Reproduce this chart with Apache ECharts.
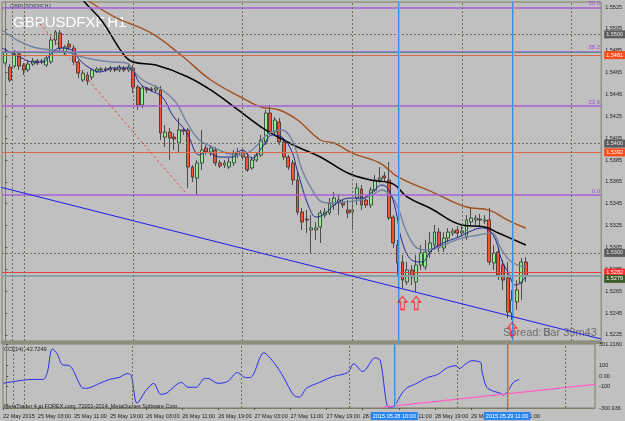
<!DOCTYPE html>
<html>
<head>
<meta charset="utf-8">
<script src="https://cdn.jsdelivr.net/npm/echarts@6/dist/echarts.min.js"></script>
<style>
  html, body { margin: 0; padding: 0; background: #c0c0c0; }
  #chart { width: 625px; height: 421px; }
</style>
</head>
<body>
<div id="chart"></div>
<script>
// bar index k: 0 = first bar on screen, 7 = 25 May 03:00, one bar per hour
const tickLabels = [
  [-0.72, '22 May 2015'], [7, '25 May 03:00'], [15, '25 May 11:00'], [23, '25 May 19:00'],
  [31, '26 May 03:00'], [39, '26 May 11:00'], [47, '26 May 19:00'], [55, '27 May 03:00'],
  [63, '27 May 11:00'], [71, '27 May 19:00'], [79, '28 May 03:00'], [87, '28 May 11:00'],
  [95, '28 May 19:00'], [103, '29 May 03:00'], [111, '29 May 11:00']
];
const priceTicks = [1.5525, 1.5505, 1.5485, 1.5465, 1.5445, 1.5425, 1.5405, 1.5385,
  1.5365, 1.5345, 1.5325, 1.5305, 1.5285, 1.5265, 1.5245, 1.5225];
const cciTicks = [301.216, 100, 0, -100, -300.936];
const cciTickText = ['301.2160', '100', '0.00', '-100', '-300.936'];

// open, close, low, high
const candles = [
  [1.54738, 1.54838, 1.54710, 1.54875], [1.54701, 1.54582, 1.54564, 1.54728],
  [1.54710, 1.54820, 1.54692, 1.54857], [1.54820, 1.54710, 1.54674, 1.54838],
  [1.54719, 1.54674, 1.54628, 1.54738], [1.54674, 1.54728, 1.54655, 1.54765],
  [1.54728, 1.54756, 1.54710, 1.54783], [1.54756, 1.54738, 1.54719, 1.54774],
  [1.54747, 1.54756, 1.54728, 1.54774], [1.54719, 1.54783, 1.54701, 1.54802],
  [1.54747, 1.54948, 1.54728, 1.54975], [1.54948, 1.55021, 1.54902, 1.55040],
  [1.55012, 1.54875, 1.54838, 1.55040], [1.54829, 1.54884, 1.54802, 1.54902],
  [1.54911, 1.54884, 1.54857, 1.54948], [1.54875, 1.54747, 1.54719, 1.54902],
  [1.54747, 1.54646, 1.54600, 1.54765], [1.54582, 1.54646, 1.54564, 1.54674],
  [1.54628, 1.54573, 1.54536, 1.54655], [1.54609, 1.54674, 1.54582, 1.54692],
  [1.54664, 1.54683, 1.54646, 1.54701], [1.54674, 1.54683, 1.54655, 1.54701],
  [1.54683, 1.54674, 1.54655, 1.54701], [1.54674, 1.54692, 1.54655, 1.54710],
  [1.54683, 1.54674, 1.54655, 1.54701], [1.54674, 1.54701, 1.54655, 1.54719],
  [1.54692, 1.54674, 1.54655, 1.54710], [1.54674, 1.54701, 1.54655, 1.54738],
  [1.54692, 1.54518, 1.54463, 1.54719], [1.54518, 1.54353, 1.54308, 1.54536],
  [1.54353, 1.54509, 1.54326, 1.54527], [1.54509, 1.54491, 1.54463, 1.54518],
  [1.54500, 1.54491, 1.54472, 1.54518], [1.54491, 1.54509, 1.54472, 1.54536],
  [1.54491, 1.54097, 1.54033, 1.54527], [1.54060, 1.54106, 1.53969, 1.54170],
  [1.54106, 1.54051, 1.53850, 1.54143], [1.54060, 1.54042, 1.53942, 1.54097],
  [1.54006, 1.54125, 1.53923, 1.54234], [1.54125, 1.54115, 1.54079, 1.54143],
  [1.54125, 1.53786, 1.53594, 1.54143], [1.53786, 1.53694, 1.53649, 1.53804],
  [1.53685, 1.53823, 1.53530, 1.53850], [1.53823, 1.53942, 1.53759, 1.54125],
  [1.53960, 1.53923, 1.53896, 1.53987], [1.53923, 1.53960, 1.53887, 1.53987],
  [1.53942, 1.53823, 1.53795, 1.53969], [1.53823, 1.53795, 1.53777, 1.53850],
  [1.53804, 1.53823, 1.53777, 1.53850], [1.53786, 1.53832, 1.53768, 1.53868],
  [1.53823, 1.53914, 1.53795, 1.53942], [1.53896, 1.53923, 1.53868, 1.53960],
  [1.53923, 1.53877, 1.53850, 1.53942], [1.53877, 1.53759, 1.53740, 1.53923],
  [1.53777, 1.53850, 1.53759, 1.53877], [1.53850, 1.53896, 1.53832, 1.53923],
  [1.53896, 1.54033, 1.53877, 1.54079], [1.54015, 1.54280, 1.53987, 1.54308],
  [1.54280, 1.54106, 1.54079, 1.54353], [1.54106, 1.54216, 1.54079, 1.54243],
  [1.54198, 1.54015, 1.53987, 1.54234], [1.54015, 1.53877, 1.53850, 1.54033],
  [1.53877, 1.53786, 1.53759, 1.53896], [1.53823, 1.53667, 1.53621, 1.53850],
  [1.53667, 1.53374, 1.53347, 1.53740], [1.53374, 1.53283, 1.53210, 1.53411],
  [1.53310, 1.53301, 1.53182, 1.53393], [1.53210, 1.53228, 1.52999, 1.53347],
  [1.53210, 1.53228, 1.53118, 1.53283], [1.53237, 1.53365, 1.53091, 1.53393],
  [1.53347, 1.53374, 1.53319, 1.53411], [1.53365, 1.53457, 1.53347, 1.53502],
  [1.53438, 1.53502, 1.53393, 1.53557], [1.53457, 1.53484, 1.53347, 1.53530],
  [1.53457, 1.53438, 1.53411, 1.53484], [1.53393, 1.53365, 1.53319, 1.53484],
  [1.53374, 1.53393, 1.53210, 1.53484], [1.53502, 1.53594, 1.53438, 1.53640],
  [1.53585, 1.53438, 1.53393, 1.53621], [1.53484, 1.53438, 1.53411, 1.53512],
  [1.53438, 1.53576, 1.53411, 1.53603], [1.53576, 1.53667, 1.53557, 1.53713],
  [1.53667, 1.53685, 1.53640, 1.53786], [1.53704, 1.53685, 1.53649, 1.53740],
  [1.53667, 1.53319, 1.53301, 1.53832], [1.53328, 1.53091, 1.53045, 1.53347],
  [1.53072, 1.52908, 1.52798, 1.53118], [1.52917, 1.52752, 1.52679, 1.52981],
  [1.52734, 1.52844, 1.52706, 1.52917], [1.52844, 1.52779, 1.52706, 1.52889],
  [1.52734, 1.52889, 1.52642, 1.52981], [1.52889, 1.52999, 1.52844, 1.53072],
  [1.52871, 1.53008, 1.52844, 1.53118], [1.53008, 1.53091, 1.52953, 1.53191],
  [1.53072, 1.53191, 1.53027, 1.53255], [1.53191, 1.53054, 1.53008, 1.53228],
  [1.53045, 1.53136, 1.53008, 1.53191], [1.53136, 1.53191, 1.53100, 1.53228],
  [1.53182, 1.53200, 1.53155, 1.53228], [1.53210, 1.53182, 1.53136, 1.53246],
  [1.53182, 1.53200, 1.53155, 1.53246], [1.53145, 1.53301, 1.53118, 1.53347],
  [1.53283, 1.53319, 1.53246, 1.53411], [1.53301, 1.53319, 1.53255, 1.53347],
  [1.53310, 1.53301, 1.53246, 1.53356], [1.53292, 1.53301, 1.53264, 1.53347],
  [1.53301, 1.52917, 1.52889, 1.53411], [1.52908, 1.52999, 1.52844, 1.53072],
  [1.53008, 1.52798, 1.52752, 1.53045], [1.52889, 1.52752, 1.52661, 1.52935],
  [1.52770, 1.52459, 1.52404, 1.52917], [1.52450, 1.52569, 1.52386, 1.52661],
  [1.52551, 1.52661, 1.52478, 1.52752], [1.52725, 1.52917, 1.52569, 1.52953],
  [1.52917, 1.52790, 1.52734, 1.52962]
];

// moving averages as [bar, price]
const maSlow = [[12, 1.55497], [18, 1.55314], [24, 1.55158], [32, 1.55012], [39, 1.54793],
  [45, 1.54582], [52, 1.54417], [56, 1.54335], [60, 1.54308], [64, 1.54216], [69, 1.54033],
  [72, 1.54006], [76, 1.53914], [82, 1.53823], [86, 1.53695], [94, 1.53548], [101, 1.53420],
  [106, 1.53392], [110, 1.53301], [114, 1.53228]];
const maMid = [[14, 1.55497], [17, 1.55314], [21, 1.55131], [26, 1.54811], [28, 1.54747],
  [33, 1.54719], [40, 1.54610], [46, 1.54463], [51, 1.54308], [57, 1.54125], [61, 1.54033],
  [64, 1.53969], [69, 1.53878], [75, 1.53731], [80, 1.53667], [85, 1.53630], [88, 1.53512],
  [93, 1.53411], [100, 1.53255], [105, 1.53237], [108, 1.53182], [114, 1.53072]];
const maFast = [[-0.7, 1.54875], [1, 1.54838], [3.2, 1.54792], [6.1, 1.54747], [8.2, 1.54747],
  [10.2, 1.54829], [11.9, 1.54875], [14.6, 1.54857], [16.3, 1.54765], [18.5, 1.54692],
  [20.7, 1.54655], [23.5, 1.54692], [26.6, 1.54692], [27.9, 1.54674], [29.4, 1.54555],
  [31.6, 1.54491], [34.4, 1.54426], [36.6, 1.54262], [39.7, 1.54106], [42.5, 1.53896],
  [44, 1.53923], [46.9, 1.53877], [49.7, 1.53877], [51.9, 1.53942], [54.1, 1.53868],
  [56.3, 1.53969], [58.5, 1.54079], [60.6, 1.54060], [62.8, 1.53923], [63.9, 1.53759],
  [66.5, 1.53420], [68.1, 1.53328], [70.2, 1.53365], [71.5, 1.53420], [73.7, 1.53484],
  [75.9, 1.53502], [78.1, 1.53502], [80.3, 1.53557], [82.5, 1.53621], [84, 1.53576],
  [85.5, 1.53393], [86.8, 1.53118], [89, 1.52935], [91.2, 1.52917], [93.4, 1.53027],
  [96.4, 1.53100], [99.3, 1.53145], [101.5, 1.53191], [104.3, 1.53228], [105.8, 1.53210],
  [107.4, 1.53118], [108.7, 1.52935], [110.2, 1.52816], [111.7, 1.52706], [112.8, 1.52725],
  [113.9, 1.52779]];
const maGrey = [[-0.7, 1.55040], [2.6, 1.54948], [6.1, 1.54884], [9.8, 1.54857], [13.5, 1.54838],
  [17, 1.54792], [20, 1.54765], [23.5, 1.54747], [26.6, 1.54738], [27.9, 1.54674],
  [30.1, 1.54582], [32.3, 1.54536], [34.4, 1.54491], [37.5, 1.54371], [39.7, 1.54198],
  [42.5, 1.54033], [45.4, 1.53969], [48.4, 1.53914], [50.6, 1.53896], [53.4, 1.53923],
  [55.6, 1.54006], [57.8, 1.54097], [60.6, 1.54125], [62.8, 1.54033], [65, 1.53759],
  [67.2, 1.53576], [69.4, 1.53466], [71.6, 1.53457], [74.6, 1.53466], [77.5, 1.53484],
  [80.3, 1.53530], [82.5, 1.53576], [84.7, 1.53512], [86.2, 1.53393], [87.7, 1.53210],
  [89.9, 1.53054], [92.1, 1.53027], [94.3, 1.53045], [97.1, 1.53091], [100, 1.53136],
  [103.7, 1.53164], [106.5, 1.53182], [108.7, 1.53027], [110.9, 1.52917], [113.9, 1.52871]];

// CCI(14) as [bar, value]
const cci = [[-0.7, -69], [1.7, -51], [6, -32], [8.2, -32], [9.1, 33], [10.2, 255], [11.3, 209],
  [12.4, 107], [14.1, 97], [16.7, -106], [17.8, -116], [20.7, -69], [22.9, -32], [25, -14],
  [26.8, 23], [27.7, 5], [29, -255], [31, -134], [32.7, -69], [34.2, -171], [35.5, -162],
  [38.8, -60], [40.3, -106], [42.1, -106], [43.6, -32], [44.7, -23], [46.9, -69], [49.1, -51],
  [51.2, 33], [53, -14], [54.1, -14], [57.1, 218], [59.5, 116], [61.5, -14], [63.7, -180],
  [65, -199], [66.5, -116], [69.4, -60], [72.4, -5], [75.7, 33], [77, 116], [79, 42],
  [81.8, 172], [82.9, 144], [84.7, -292], [85.5, -292], [86.2, -273], [87.7, -162], [89, -106],
  [90.5, -79], [93.4, -14], [95.6, 14], [97.8, 79], [99.7, 97], [100.4, 70], [101.9, 116],
  [103.2, 144], [105.2, 125], [105.4, 51], [106.5, -106], [108, -143], [109.5, -162],
  [110.2, -180], [111.3, -134], [112.4, -60], [113.7, -32]];

const trendBlue = [[-1.2, 1.53603], [130.5, 1.52212]];
const trendRed = [[6.9, 1.55131], [39.9, 1.53530]];
const trendPink = [[83.5, -292], [130.5, -79]];
const arrows = [[87, 1.52542], [90, 1.52542], [111, 1.52304]];

const fibLevels = [[1.55246, '50.0'], [1.54841, '38.2'], [1.54344, '23.6'], [1.53530, '0.0']];
const roundLevels = [1.5500, 1.5400, 1.5300];
const priceLines = [[1.5481, '1.5481', '#d86a4a', '#ff4a1a'], [1.5392, '1.5392', '#d86a4a', '#ff4a1a'],
  [1.5282, '1.5282', '#e04040', '#ff2a2a']];
const gridDays = [1.47, 4.1, 28, 52, 76, 100, 124];
const markedBars = [[86, '2015.05.28 10:00'], [111, '2015.05.29 11:00']];

const narrow = "'Liberation Sans Narrow', 'Liberation Sans', sans-serif";
const border = '#7c7d66';

const chart = echarts.init(document.getElementById('chart'));

const mainLines = [];
fibLevels.forEach(([v, t]) => mainLines.push({
  yAxis: v, lineStyle: { color: '#a860d8', width: 1.6, type: 'solid' },
  label: { show: true, position: 'insideEndTop', formatter: t, color: '#a050d0', fontSize: 6, fontFamily: narrow, distance: 1 }
}));
roundLevels.forEach(v => mainLines.push({
  yAxis: v, lineStyle: { color: '#6e6e60', width: 1, type: [2, 2] },
  label: { show: true, position: 'end', formatter: v.toFixed(4), color: '#e8e8e8', backgroundColor: '#5c5c5c',
    fontSize: 5.5, fontFamily: narrow, padding: [1, 2], distance: 3 }
}));
priceLines.forEach(([v, t, c, bg]) => mainLines.push({
  yAxis: v, lineStyle: { color: c, width: 1, type: 'solid' },
  label: { show: true, position: 'end', formatter: t, color: '#fff', backgroundColor: bg,
    fontSize: 5.5, fontFamily: narrow, padding: [1, 2], distance: 3 }
}));
mainLines.push({ yAxis: 1.5484, lineStyle: { color: '#4f8f8f', width: 1, type: 'solid' }, label: { show: false } });
mainLines.push({
  yAxis: 1.5279, lineStyle: { color: '#8fa0a8', width: 2, type: 'solid' },
  label: { show: true, position: 'end', formatter: '1.5279', color: '#fff', backgroundColor: '#3d5a2a',
    fontSize: 5.5, fontFamily: narrow, padding: [1, 2], distance: 3, offset: [0, 3] }
});
gridDays.forEach(k => mainLines.push({ xAxis: k, lineStyle: { color: '#707058', width: 1, type: [2, 2] }, label: { show: false } }));
markedBars.forEach(([k]) => {
  mainLines.push({ xAxis: k + 0.22, lineStyle: { color: '#d09a70', width: 1, type: 'solid' }, label: { show: false } });
  mainLines.push({ xAxis: k, lineStyle: { color: '#3b8fe0', width: 1, type: 'solid' }, label: { show: false } });
});

const subLines = [];
gridDays.forEach(k => subLines.push({ xAxis: k, lineStyle: { color: '#707058', width: 1, type: [2, 2] }, label: { show: false } }));
markedBars.forEach(([k, t]) => {
  subLines.push({ xAxis: k + 0.22, lineStyle: { color: '#d09a70', width: 1, type: 'solid' }, label: { show: false } });
  subLines.push({
    xAxis: k, lineStyle: { color: '#3b8fe0', width: 1, type: 'solid' },
    label: { show: true, position: 'start', formatter: t, color: '#fff', backgroundColor: '#2a86ee',
      fontSize: 5.5, fontFamily: narrow, padding: [1, 2], distance: 4 }
  });
});

const maLine = (data, color, width) => ({
  type: 'line', xAxisIndex: 0, yAxisIndex: 0, data, smooth: 0.4, symbol: 'none',
  lineStyle: { color, width }, z: 4, clip: true, silent: true
});

chart.setOption({
  animation: false,
  backgroundColor: '#c0c0c0',
  grid: [
    { left: 2, top: 2, width: 601, height: 339, show: true, borderColor: border, borderWidth: 1, backgroundColor: '#c0c0c0' },
    { left: 2, top: 344, width: 601, height: 64, show: true, borderColor: border, borderWidth: 1, backgroundColor: '#c0c0c0' }
  ],
  xAxis: [
    { type: 'value', gridIndex: 0, min: -0.72, max: 130.5, axisLabel: { show: false }, axisTick: { show: false },
      splitLine: { show: false }, axisLine: { show: true, onZero: false, lineStyle: { color: '#8d8e7e', width: 3 } }, offset: 1.5 },
    { type: 'value', gridIndex: 1, min: -0.72, max: 130.5, splitLine: { show: false },
      axisLine: { show: true, onZero: false, lineStyle: { color: border } },
      axisTick: { show: true, customValues: tickLabels.map(t => t[0]), length: 2, lineStyle: { color: '#505050' } },
      axisLabel: { customValues: tickLabels.map(t => t[0]), align: 'left', margin: 5,
        formatter: v => { const t = tickLabels.find(x => Math.abs(x[0] - v) < 0.01); return t ? t[1] : ''; },
        color: '#202020', fontSize: 5.5, fontFamily: narrow } }
  ],
  yAxis: [
    { type: 'value', gridIndex: 0, position: 'right', min: 1.52194, max: 1.55296, scale: true,
      splitLine: { show: false }, axisLine: { show: true, lineStyle: { color: border } },
      axisTick: { show: true, customValues: priceTicks, length: 2, lineStyle: { color: '#505050' } },
      axisLabel: { customValues: priceTicks, formatter: v => v.toFixed(4), color: '#202020', fontSize: 5.5,
        fontFamily: narrow, margin: 4 } },
    { type: 'value', gridIndex: 1, position: 'right', min: -300.936, max: 301.216,
      splitLine: { show: false }, axisLine: { show: true, lineStyle: { color: border } },
      axisTick: { show: true, customValues: cciTicks, length: 2, lineStyle: { color: '#505050' } },
      axisLabel: { customValues: cciTicks, color: '#202020', fontSize: 5.5, fontFamily: narrow, margin: 4,
        formatter: v => { const i = cciTicks.findIndex(x => Math.abs(x - v) < 0.01); return i >= 0 ? cciTickText[i] : ''; } } }
  ],
  series: [
    { type: 'line', xAxisIndex: 0, yAxisIndex: 0, data: [], z: 1, silent: true,
      markLine: { silent: true, precision: 6, symbol: ['none', 'none'], animation: false, data: mainLines } },
    { type: 'line', xAxisIndex: 1, yAxisIndex: 1, data: [], z: 1, silent: true,
      markLine: { silent: true, precision: 6, symbol: ['none', 'none'], animation: false, data: subLines } },
    { type: 'candlestick', xAxisIndex: 0, yAxisIndex: 0, z: 3,
      data: candles.map((c, i) => [i, c[0], c[1], c[2], c[3]]),
      encode: { x: 0, y: [1, 2, 3, 4] },
      barWidth: 3.4,
      itemStyle: { color: '#8cf08c', color0: '#ff5030', borderColor: '#2e2e2e', borderColor0: '#2e2e2e', borderWidth: 0.8 } },
    maLine(maSlow, '#a0501e', 1.4),
    maLine(maMid, '#000000', 1.5),
    maLine(maGrey, '#7283a0', 1.4),
    maLine(maFast, '#23239a', 1),
    { type: 'line', xAxisIndex: 0, yAxisIndex: 0, data: trendBlue, symbol: 'none', z: 5, silent: true,
      lineStyle: { color: '#1c1cf0', width: 1 } },
    { type: 'line', xAxisIndex: 0, yAxisIndex: 0, data: trendRed, symbol: 'none', z: 5, silent: true,
      lineStyle: { color: '#ff3030', width: 1, type: [2, 3] } },
    { type: 'scatter', xAxisIndex: 0, yAxisIndex: 0, data: arrows, z: 6, silent: true,
      symbol: 'path://M5,0 L10,6 L7,6 L7,14 L3,14 L3,6 L0,6 Z', symbolSize: [9, 13],
      itemStyle: { color: 'rgba(255,255,255,0)', borderColor: '#ff1a1a', borderWidth: 1.2 } },
    { type: 'line', xAxisIndex: 1, yAxisIndex: 1, data: cci, symbol: 'none', smooth: 0.3, z: 4, silent: true,
      lineStyle: { color: '#2b2bee', width: 1 } },
    { type: 'line', xAxisIndex: 1, yAxisIndex: 1, data: trendPink, symbol: 'none', z: 4, silent: true,
      lineStyle: { color: '#ff5fc8', width: 1.2 } }
  ],
  graphic: [
    { type: 'text', left: 13, top: 15, style: { text: 'GBPUSDFXF,H1', fill: '#ffffff', font: '15px "Liberation Sans", Arial, sans-serif' } },
    { type: 'text', left: 10, top: 3, style: { text: 'GBPUSDFXF,H1', fill: '#3a3a50', font: '5.5px ' + narrow } },
    { type: 'text', left: 503, top: 327, style: { text: 'Spread: 3', fill: '#6e6e6e', font: '11px "Liberation Sans", Arial, sans-serif' } },
    { type: 'text', left: 543, top: 327, style: { text: 'Bar 39m43', fill: '#6e6e6e', font: '11px "Liberation Sans", Arial, sans-serif' } },
    { type: 'text', left: 4, top: 346, style: { text: 'CCI(14) -42.7249', fill: '#202020', font: '5.5px ' + narrow } },
    { type: 'text', left: 4, top: 403, style: { text: 'MetaTrader 4 at FOREX.com, ?2001-2014, MetaQuotes Software Corp.', fill: '#202020', font: '5.5px ' + narrow } }
  ]
});
</script>
</body>
</html>
